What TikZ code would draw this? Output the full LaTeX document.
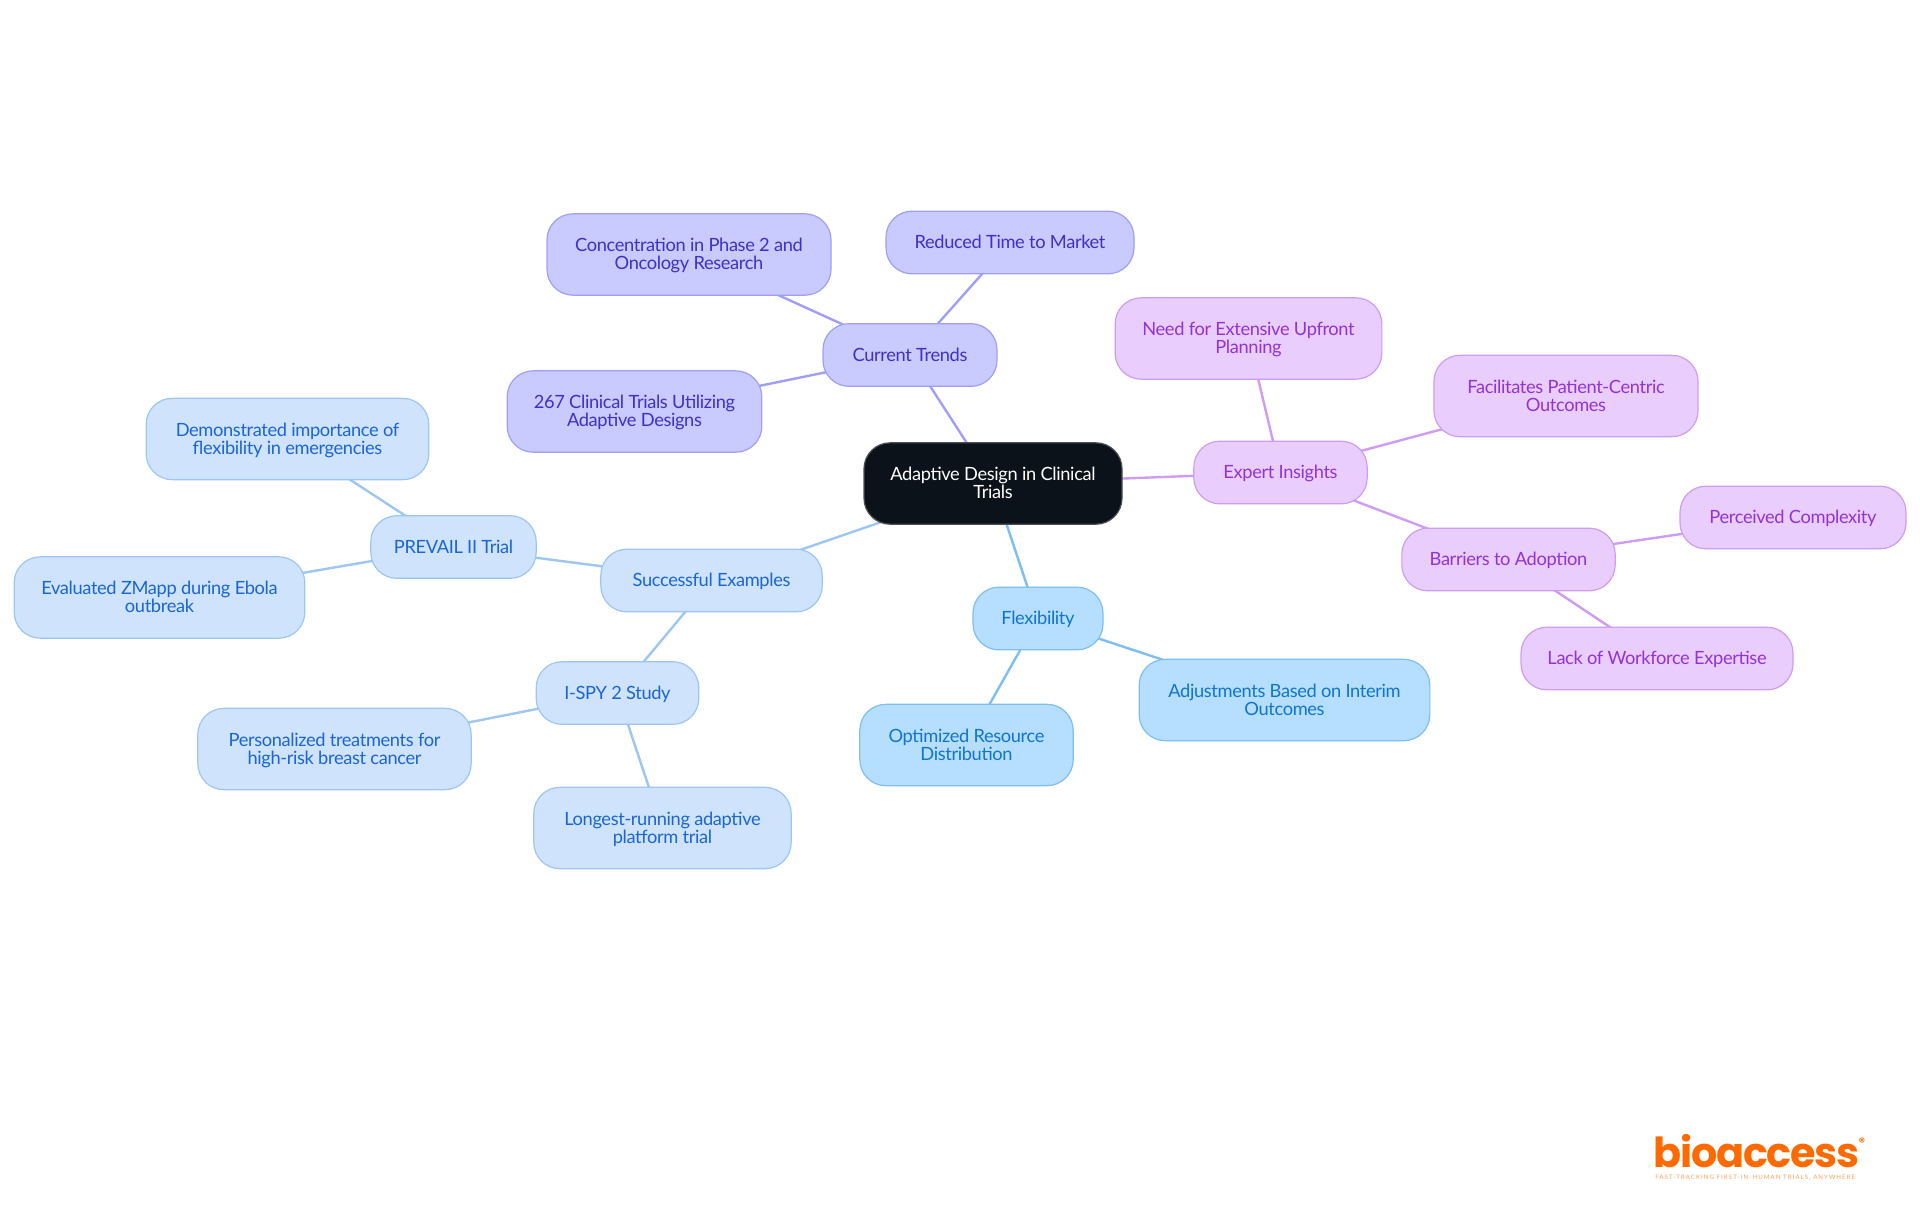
\documentclass[tikz,border=0pt]{standalone}
\usepackage{fontspec}
\setmainfont{Lato}[LetterSpace=-2]
\newfontfamily\logofont{Poppins}[LetterSpace=-3]
\newfontfamily\tagfont{Lato}[LetterSpace=17]
\usetikzlibrary{backgrounds}
\definecolor{rootfill}{HTML}{0B121A}
\definecolor{rootline}{HTML}{4A4F55}
\definecolor{trendfill}{HTML}{C9CAFE}
\definecolor{trendline}{HTML}{A09EF6}
\definecolor{trendtext}{HTML}{3F30C8}
\definecolor{insightfill}{HTML}{E9CDFD}
\definecolor{insightline}{HTML}{CE9DF3}
\definecolor{insighttext}{HTML}{9333D6}
\definecolor{flexfill}{HTML}{B6DFFF}
\definecolor{flexline}{HTML}{7EBEF1}
\definecolor{flextext}{HTML}{0F75CF}
\definecolor{examplefill}{HTML}{CFE3FC}
\definecolor{exampleline}{HTML}{9DC6F2}
\definecolor{exampletext}{HTML}{1A66D4}
\definecolor{logoorange}{HTML}{FF6A00}
\tikzset{
    mapnode/.style={rounded corners=19.5pt, line width=0.9pt, inner sep=0pt, minimum height=47pt,
        align=center, font=\fontsize{13.7}{13.6}\selectfont,
        execute at begin node={\rule{0pt}{13pt}},
        execute at end node={\rule[-3.4pt]{0pt}{3.4pt}}},
    tall/.style={minimum height=61pt, execute at begin node={\rule{0pt}{26.6pt}}},
    rootbox/.style={mapnode, fill=rootfill, draw=rootline, text=white},
    trendbox/.style={mapnode, fill=trendfill, draw=trendline, text=trendtext},
    insightbox/.style={mapnode, fill=insightfill, draw=insightline, text=insighttext},
    flexbox/.style={mapnode, fill=flexfill, draw=flexline, text=flextext},
    examplebox/.style={mapnode, fill=examplefill, draw=exampleline, text=exampletext},
    trendlink/.style={trendline, line width=1.8pt},
    insightlink/.style={insightline, line width=1.8pt},
    flexlink/.style={flexline, line width=1.8pt},
    examplelink/.style={exampleline, line width=1.8pt}
}
\begin{document}
\begin{tikzpicture}[x=0.75pt,y=-0.75pt]
    \useasboundingbox (0,0) rectangle (1920,1215);
    % centre
    \node[rootbox,tall,minimum width=193.5pt] (root) at (993,483.5) {Adaptive Design in Clinical\\Trials};
    % current trends
    \node[trendbox,minimum width=130.5pt] (trends) at (910,355) {Current Trends};
    \node[trendbox,minimum width=186pt] (market) at (1010,242.5) {Reduced Time to Market};
    \node[trendbox,tall,minimum width=213pt] (phase) at (689,254.5) {Concentration in Phase 2 and\\Oncology Research};
    \node[trendbox,tall,minimum width=191pt] (count) at (634.5,411.5) {267 Clinical Trials Utilizing\\Adaptive Designs};
    % expert insights
    \node[insightbox,minimum width=130pt] (expert) at (1280.5,472.5) {Expert Insights};
    \node[insightbox,tall,minimum width=200pt] (planning) at (1248.5,338.5) {Need for Extensive Upfront\\Planning};
    \node[insightbox,tall,minimum width=198pt] (patient) at (1566,396) {Facilitates Patient-Centric\\Outcomes};
    \node[insightbox,minimum width=160pt] (barriers) at (1508.5,559.5) {Barriers to Adoption};
    \node[insightbox,minimum width=169.5pt] (complexity) at (1793,517.5) {Perceived Complexity};
    \node[insightbox,minimum width=204pt] (workforce) at (1657,658.5) {Lack of Workforce Expertise};
    % flexibility
    \node[flexbox,minimum width=97.5pt] (flex) at (1038,618.5) {Flexibility};
    \node[flexbox,tall,minimum width=218pt] (interim) at (1284.5,700) {Adjustments Based on Interim\\Outcomes};
    \node[flexbox,tall,minimum width=160pt] (resource) at (966.5,745) {Optimized Resource\\Distribution};
    % examples
    \node[examplebox,minimum width=166pt] (examples) at (711.5,580.5) {Successful Examples};
    \node[examplebox,minimum width=124pt] (prevail) at (453.5,547) {PREVAIL II Trial};
    \node[examplebox,tall,minimum width=212pt] (emergency) at (287.5,439) {Demonstrated importance of\\flexibility in emergencies};
    \node[examplebox,tall,minimum width=218pt] (ebola) at (159.5,597.5) {Evaluated ZMapp during Ebola\\outbreak};
    \node[examplebox,minimum width=122pt] (ispy) at (617.5,693) {I-SPY 2 Study};
    \node[examplebox,tall,minimum width=205pt] (cancer) at (334.5,749) {Personalized treatments for\\high-risk breast cancer};
    \node[examplebox,tall,minimum width=193pt] (platform) at (662.5,828) {Longest-running adaptive\\platform trial};
    % links
    \begin{scope}[on background layer]
        \draw[trendlink] (root.center) -- (trends.center);
        \draw[trendlink] (trends.center) -- (market.center);
        \draw[trendlink] (trends.center) -- (phase.center);
        \draw[trendlink] (trends.center) -- (count.center);
        \draw[insightlink] (root.center) -- (expert.center);
        \draw[insightlink] (expert.center) -- (planning.center);
        \draw[insightlink] (expert.center) -- (patient.center);
        \draw[insightlink] (expert.center) -- (barriers.center);
        \draw[insightlink] (barriers.center) -- (complexity.center);
        \draw[insightlink] (barriers.center) -- (workforce.center);
        \draw[flexlink] (root.center) -- (flex.center);
        \draw[flexlink] (flex.center) -- (interim.center);
        \draw[flexlink] (flex.center) -- (resource.center);
        \draw[examplelink] (root.center) -- (examples.center);
        \draw[examplelink] (examples.center) -- (prevail.center);
        \draw[examplelink] (prevail.center) -- (emergency.center);
        \draw[examplelink] (prevail.center) -- (ebola.center);
        \draw[examplelink] (examples.center) -- (ispy.center);
        \draw[examplelink] (ispy.center) -- (cancer.center);
        \draw[examplelink] (ispy.center) -- (platform.center);
    \end{scope}
    % logo
    \node[anchor=base west,inner sep=0pt,text=logoorange,font=\logofont\bfseries\fontsize{31}{32}\selectfont] (logo) at (1653,1167) {bioaccess};
    \node[inner sep=0pt,text=logoorange,font=\logofont\bfseries\fontsize{9}{9}\selectfont] (logomark) at (1862,1142) {®};
    \node[anchor=base west,inner sep=0pt,text=logoorange!65,font=\tagfont\fontsize{4.6}{5}\selectfont] (tagline) at (1655,1179) {FAST-TRACKING FIRST-IN-HUMAN TRIALS, ANYWHERE};
\end{tikzpicture}
\end{document}
